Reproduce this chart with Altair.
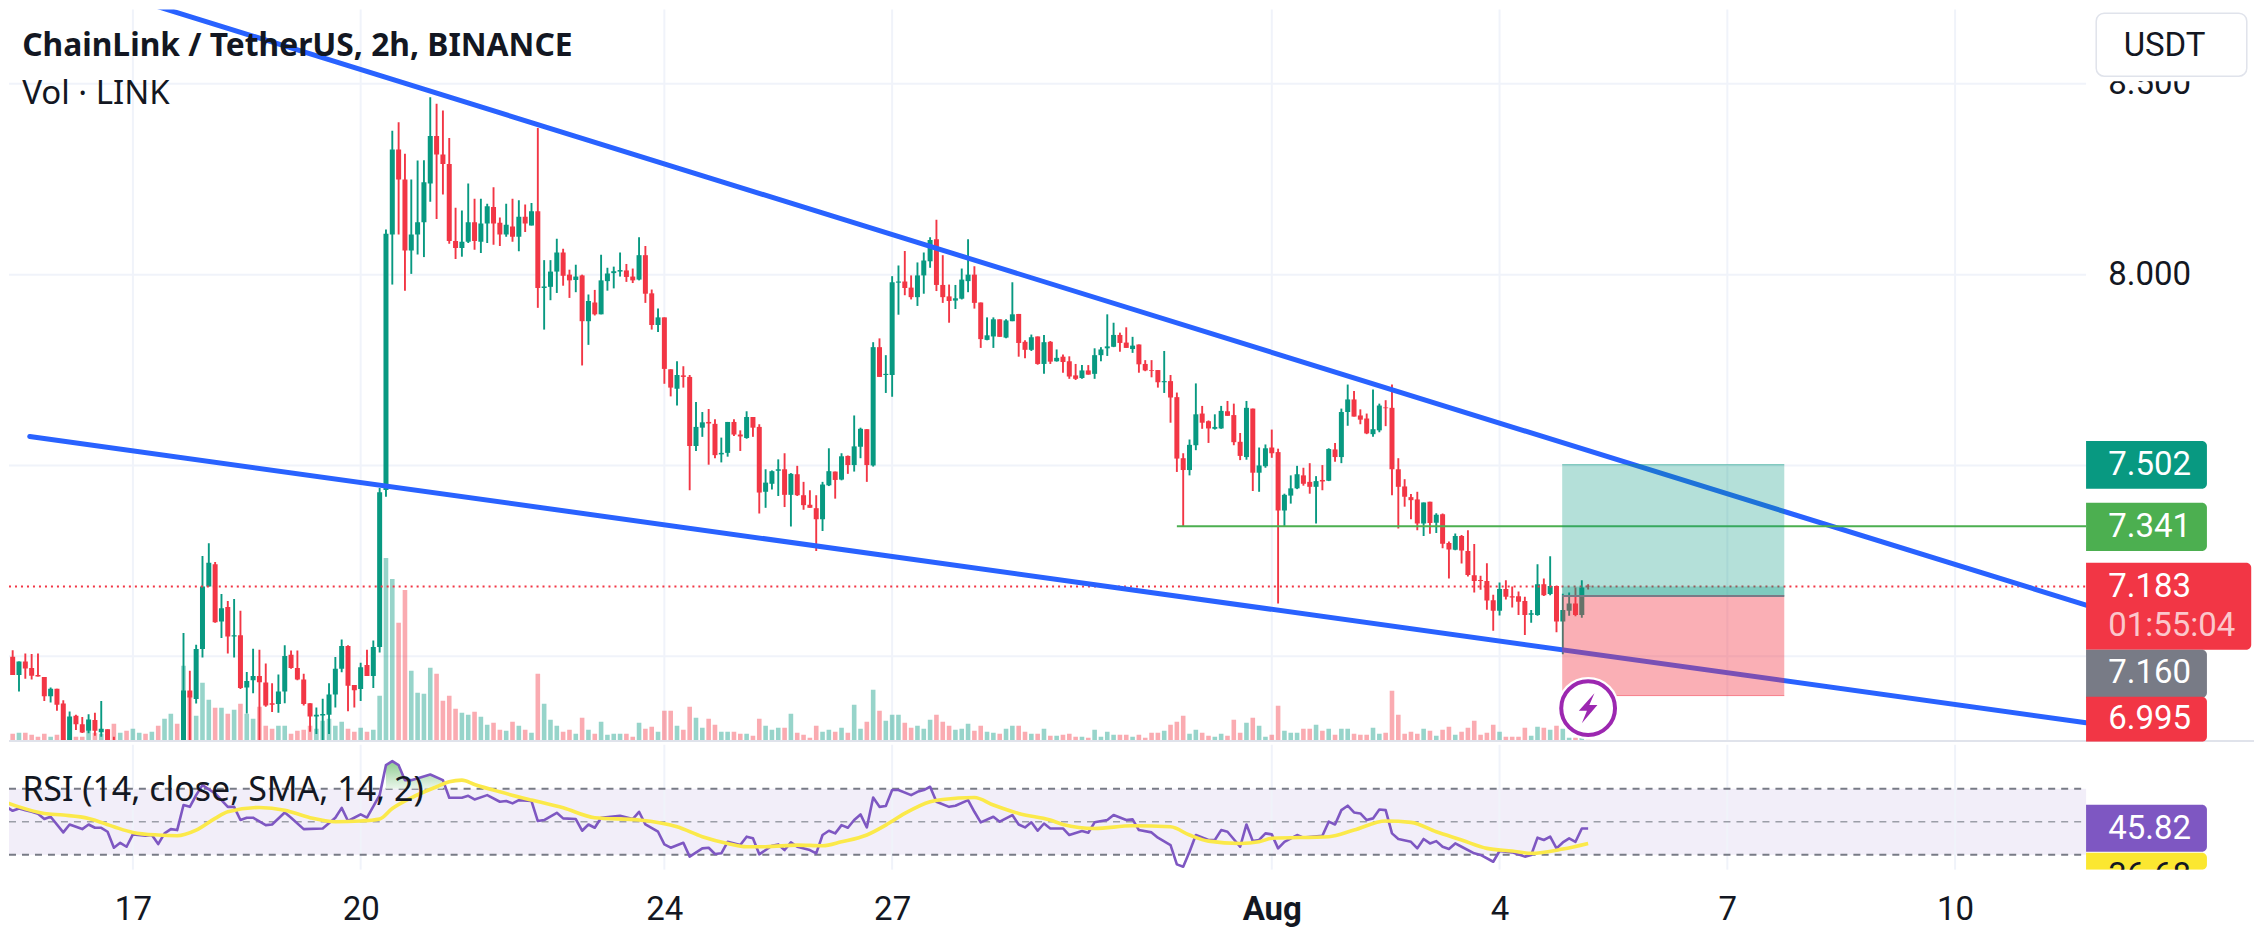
import altair as alt
import pandas as pd

# ---------- candles (open, high, low, close); 2h bars, bar 0 = 17 Jul 00:00 ----------
first_candles_start = -20
candles_before_17 = [
(6.978,7.007,6.934,6.999),(6.999,7.016,6.951,6.951),(6.951,6.986,6.908,6.986),(6.986,7.007,6.941,6.968),
(6.969,7.006,6.939,6.949),(6.951,7.007,6.947,6.947),(6.946,6.946,6.883,6.895),(6.895,6.918,6.879,6.915),
(6.915,6.915,6.857,6.873),(6.876,6.885,6.774,6.777),(6.777,6.855,6.774,6.842),(6.844,6.847,6.807,6.822),
(6.822,6.841,6.799,6.800),(6.805,6.848,6.798,6.834),(6.833,6.852,6.792,6.805),(6.801,6.883,6.789,6.810),
(6.809,6.809,6.760,6.760),(6.760,6.789,6.740,6.740)]
second_candles_start = 8
candles_a = [
(6.740,7.061,6.730,6.910),(6.910,6.962,6.740,6.892),(6.888,7.030,6.876,7.019),(7.019,7.263,6.997,7.183),
(7.183,7.296,7.183,7.245),(7.241,7.247,7.088,7.089),(7.091,7.163,7.048,7.126),(7.129,7.145,7.007,7.052),
(7.052,7.150,6.997,7.055),(7.055,7.119,6.914,6.917),(6.918,6.959,6.850,6.935),(6.937,7.020,6.903,6.948),
(6.948,7.017,6.740,6.932),(6.931,6.981,6.868,6.871),(6.877,6.929,6.854,6.873),(6.875,6.952,6.852,6.908),
(6.908,7.029,6.877,7.001),(7.004,7.015,6.967,6.969),(6.969,7.015,6.937,6.939),(6.939,6.954,6.871,6.875),
(6.877,6.877,6.802,6.842),(6.842,6.866,6.796,6.847),(6.845,6.889,6.775,6.849),(6.847,6.929,6.796,6.900),
(6.900,6.998,6.866,6.967),(6.967,7.044,6.958,7.027),(7.027,7.029,6.856,6.923),(6.925,6.925,6.866,6.911),
(6.914,6.983,6.883,6.971),(6.977,7.017,6.948,6.948),(6.948,7.041,6.917,7.024),(7.024,7.441,7.010,7.430),
(7.436,8.118,7.418,8.107)]
candles_b = [
(8.105,8.377,7.974,8.328),(8.328,8.399,8.105,8.249),(8.249,8.317,7.958,8.063),(8.063,8.249,8.002,8.105),
(8.105,8.299,8.053,8.137),(8.137,8.300,8.046,8.242),(8.239,8.465,8.191,8.363),(8.363,8.448,8.146,8.315),
(8.315,8.430,8.210,8.290),(8.290,8.358,8.081,8.088),(8.088,8.175,8.041,8.070),(8.070,8.168,8.047,8.086),
(8.086,8.239,8.083,8.137),(8.137,8.199,8.065,8.088),(8.086,8.199,8.057,8.134),(8.134,8.186,8.083,8.179),
(8.177,8.229,8.078,8.134),(8.136,8.150,8.075,8.105),(8.105,8.186,8.099,8.131),(8.126,8.199,8.086,8.099),
(8.099,8.195,8.061,8.152),(8.152,8.184,8.112,8.134),(8.129,8.188,8.129,8.166),(8.166,8.384,7.913,7.965),
(7.965,8.038,7.856,7.969),(7.968,8.038,7.933,8.008),(8.008,8.094,7.952,8.058),(8.058,8.068,7.971,7.997),
(8.000,8.013,7.939,7.985),(7.986,8.026,7.954,7.995),(7.998,8.000,7.762,7.878),(7.878,7.948,7.816,7.931),
(7.927,7.960,7.893,7.896),(7.896,8.052,7.896,7.985),(7.983,8.018,7.958,8.003),(8.004,8.021,7.964,8.009),
(8.008,8.058,7.995,8.012),(8.011,8.028,7.981,7.994),(7.995,8.016,7.978,7.985)]
candles_c = [
(7.987,8.098,7.985,8.051),(8.051,8.075,7.926,7.950),(7.951,7.961,7.856,7.868),(7.868,7.911,7.850,7.888),
(7.888,7.888,7.714,7.753),(7.752,7.752,7.681,7.704),(7.701,7.773,7.657,7.737),(7.736,7.760,7.704,7.732),
(7.732,7.737,7.435,7.551),(7.551,7.666,7.538,7.601),(7.599,7.640,7.575,7.613),(7.614,7.648,7.502,7.610),
(7.609,7.621,7.519,7.527),(7.529,7.573,7.508,7.533),(7.533,7.614,7.523,7.614),(7.614,7.621,7.577,7.581),
(7.581,7.592,7.538,7.576),(7.572,7.642,7.570,7.627),(7.627,7.627,7.575,7.599),(7.601,7.608,7.374,7.429),
(7.431,7.490,7.389,7.455),(7.452,7.487,7.437,7.485),(7.486,7.516,7.420,7.490),(7.490,7.532,7.391,7.423),
(7.423,7.480,7.340,7.478),(7.477,7.499,7.420,7.422),(7.422,7.457,7.384,7.396),(7.397,7.435,7.389,7.389),
(7.388,7.422,7.276,7.359),(7.359,7.457,7.328,7.450),(7.448,7.545,7.446,7.485),(7.484,7.484,7.413,7.462),
(7.463,7.532,7.461,7.524),(7.525,7.526,7.478,7.501),(7.501,7.631,7.484,7.550),(7.549,7.599,7.519,7.596),
(7.595,7.595,7.457,7.501),(7.500,7.823,7.497,7.810),(7.810,7.833,7.732,7.732),(7.737,7.789,7.690,7.740),
(7.737,7.996,7.680,7.980)]
candles_d = [
(7.979,8.024,7.895,7.982),(7.982,8.062,7.946,7.965),(7.966,7.998,7.935,7.941),(7.941,8.032,7.918,7.998),
(7.998,8.058,7.950,8.037),(8.035,8.098,8.018,8.091),(8.093,8.144,7.957,7.973),(7.973,8.051,7.926,7.941),
(7.943,7.974,7.874,7.931),(7.932,7.973,7.910,7.938),(7.937,8.016,7.935,7.987),(7.983,8.093,7.954,8.000),
(8.000,8.022,7.911,7.926),(7.927,7.927,7.808,7.831),(7.829,7.888,7.828,7.841),(7.838,7.888,7.808,7.883),
(7.883,7.883,7.837,7.837),(7.835,7.883,7.833,7.880),(7.878,7.980,7.878,7.896),(7.897,7.897,7.785,7.821),
(7.824,7.828,7.781,7.803),(7.803,7.843,7.800,7.836),(7.838,7.838,7.764,7.766),(7.766,7.842,7.740,7.823),
(7.824,7.826,7.766,7.772),(7.773,7.804,7.772,7.782),(7.785,7.791,7.743,7.771),(7.773,7.786,7.727,7.733),
(7.736,7.766,7.724,7.727),(7.729,7.763,7.727,7.749),(7.749,7.763,7.738,7.738),(7.740,7.807,7.727,7.789),
(7.789,7.810,7.773,7.804),(7.807,7.896,7.787,7.812),(7.811,7.874,7.810,7.842),(7.842,7.848,7.798,7.821),
(7.822,7.862,7.808,7.808),(7.805,7.837,7.795,7.814),(7.817,7.817,7.743,7.765),(7.766,7.776,7.747,7.749),
(7.750,7.776,7.731,7.748),(7.750,7.750,7.704,7.718),(7.718,7.800,7.690,7.721)]
candles_e = [
(7.721,7.737,7.612,7.678),(7.679,7.691,7.483,7.518),(7.519,7.532,7.340,7.488),(7.488,7.568,7.474,7.554),
(7.553,7.715,7.540,7.634),(7.636,7.656,7.596,7.612),(7.616,7.618,7.559,7.597),(7.596,7.634,7.594,7.601),
(7.597,7.656,7.596,7.643),(7.642,7.669,7.630,7.630),(7.632,7.662,7.553,7.561),(7.562,7.585,7.514,7.525),
(7.522,7.669,7.515,7.651),(7.649,7.649,7.433,7.481),(7.481,7.547,7.431,7.500),(7.498,7.555,7.494,7.545),
(7.547,7.594,7.520,7.532),(7.535,7.544,7.138,7.382),(7.382,7.426,7.340,7.423),(7.421,7.474,7.400,7.440),
(7.440,7.499,7.438,7.477),(7.474,7.494,7.447,7.452),(7.457,7.506,7.426,7.444),(7.444,7.472,7.348,7.459),
(7.462,7.501,7.435,7.458),(7.460,7.545,7.459,7.543),(7.542,7.559,7.510,7.522),(7.522,7.649,7.506,7.640),
(7.640,7.712,7.604,7.673),(7.673,7.695,7.628,7.628),(7.631,7.647,7.608,7.620),(7.623,7.636,7.582,7.584),
(7.582,7.699,7.575,7.595),(7.592,7.662,7.587,7.657),(7.652,7.671,7.603,7.650),(7.651,7.712,7.422,7.490),
(7.490,7.519,7.335,7.444)]
candles_f = [
(7.445,7.464,7.392,7.418),(7.417,7.425,7.359,7.409),(7.411,7.431,7.330,7.348),(7.348,7.403,7.315,7.403),
(7.405,7.405,7.321,7.349),(7.350,7.375,7.323,7.371),(7.372,7.374,7.283,7.295),(7.297,7.301,7.204,7.280),
(7.279,7.322,7.278,7.315),(7.315,7.318,7.243,7.277),(7.276,7.330,7.209,7.213),(7.212,7.294,7.167,7.197),
(7.200,7.211,7.174,7.197),(7.197,7.244,7.122,7.146),(7.147,7.161,7.067,7.119),(7.119,7.193,7.107,7.176),
(7.176,7.199,7.149,7.156),(7.157,7.183,7.128,7.154),(7.157,7.170,7.108,7.143),(7.145,7.156,7.056,7.108),
(7.109,7.121,7.088,7.113),(7.108,7.241,7.106,7.189),(7.189,7.204,7.158,7.160),(7.163,7.262,7.160,7.184),
(7.184,7.184,7.063,7.091),(7.091,7.164,7.005,7.121),(7.119,7.167,7.106,7.138),(7.138,7.180,7.105,7.108),
(7.108,7.199,7.101,7.180),(7.185,7.189,7.175,7.183)]

# ---------- volume (relative), one per bar from bar -20 ----------
vol_before_8 = [9,7,8,8,6,4,7,4,6,2,3,4,4,10,8,7,7,17,8,10,12,8,7,9,15,22,27,17]
vol_up_before_8 = [1,0,1,0,0,0,0,1,0,0,1,0,0,1,0,1,0,0,1,0,1,1,0,1,0,1,1,0]
vol_a = [75,45,25,58,41,33,33,27,31,37,27,22,34,15,12,15,15,7,10,11,15,12,20,22,15,19,12,9,13,9,11,45,183]
vol_b = [162,118,151,70,48,47,73,67,40,45,32,28,26,29,24,16,18,11,10,19,15,11,8,67,37,21,15,9,11,7,23,11,7,19,6,7,7,7,4]
vol_c = [18,12,14,9,30,30,15,11,34,23,13,22,16,9,9,9,7,7,5,22,15,11,13,13,27,8,6,3,15,9,11,9,13,8,36,12,19,51,30,20,26]
vol_d = [26,18,13,15,12,21,26,19,15,11,12,17,10,15,9,8,7,12,15,15,9,7,7,12,5,5,6,7,4,4,3,11,4,9,6,6,6,4,6,3,8,8,10]
vol_e = [16,19,25,7,11,8,5,4,7,5,21,8,18,23,15,4,6,35,10,8,8,12,12,16,10,12,6,12,12,7,6,6,13,7,8,50,26]
vol_f = [7,9,7,12,10,5,11,14,6,9,13,20,6,8,16,9,4,4,4,13,5,14,13,11,15,12,3,3,3,1]

# ---------- RSI (bar index, value) ----------
rsi_bars = [-21,-20,-19,-18,-17,-16,-15,-14,-13,-11,-10,-8,-7,-6,-5,-4,-3,-2,-1,0,2,3,4,5,6,7,8,9,10,11,13,14,15,16,17,18,19,21,22,24,25,27,30,32,33,34,36,37,39,40,41,42,43,44,47,49,50,52,53,54,56,58,59,60,61,63,64,65,67,68,70,71,72,73,74,77,79,80,81,83,84,85,87,88,90,91,92,93,94,96,97,98,99,101,102,103,104,105,
107,108,109,110,111,112,113,114,115,116,117,118,119,120,121,123,124,125,126,127,129,130,132,133,134,136,137,139,140,141,142,143,144,145,147,148,150,151,152,154,155,157,158,159,161,162,164,165,166,167,168,170,171,172,173,175,176,177,178,179,180,181,182,184,185,188,189,190,191,192,193,194,195,196,197,198,199,200,202,203,204,205,206,207,208,209,210,212,213,215,216,218,220,221,222,223,224,225,226,227,228,229,230]
rsi_vals = [59,59,56.6,58,57,56,54.8,51.6,53,43.5,48.3,45.5,48.3,46.3,46.3,43.9,34.2,37.2,34.8,42.3,41.5,41.9,36.4,42.9,45.5,44.9,60.1,59,66.1,72.2,67.1,63.1,59,59,51,52.4,52.4,47.9,48.3,55.6,52.4,45.5,45.9,52.4,58.4,50.4,54.4,52.4,66.1,84.3,86.7,84.3,75.2,75.2,78.6,75.2,64.5,64.5,65.7,63.5,66.1,62.1,62.5,61.1,63.1,62.5,50.4,51,55.4,52,51.6,44.5,48.3,46.3,52.4,53.6,51.6,56,48.3,43.9,36.2,34.2,37.2,28.8,33.8,34.2,30.4,30.8,37.8,35.8,40.9,39.9,30.2,35.4,36.2,32.8,37.4,34.8,
32.8,30.8,41.9,44.5,42.9,47.9,46.3,51,54.4,46.5,64.7,59,59.5,69.2,69.2,66.1,68.1,69.2,71.2,62.1,59,59.7,63.1,56,49.6,53,50,54,48.3,46.5,49.6,44.5,48.9,45.9,45.9,41.9,44.3,43.3,49.6,51,54,51,51.4,44.9,43.5,40.3,35.8,24.1,22.7,31.8,41.9,38.9,38.9,44.9,43.9,34.8,48.3,38.2,38.9,42.9,42.3,33.8,37.8,41.9,40.3,41.5,50,48.3,57,59.7,55.6,55,51,52,57.4,57,42.9,39.5,37.8,33.8,39.5,36.8,38.2,34.8,33.4,36.8,34.8,30.8,29.8,25.7,32.2,31.4,28.8,29.8,40.3,38.9,40.9,33.8,37.4,39.9,37.8,45.9,45.9]
sma_bars = [-21,-18,-14,-11,-7,-3,0,4,7,10,13,15,20,24,28,32,36,39,41,44,48,50,52,54,58,63,68,73,80,86,90,94,97,100,105,109,112,116,119,122,126,128,133,136,140,145,147,152,158,164,167,170,175,178,180,189,193,198,202,206,210,214,218,221,226,230]
sma_vals = [63.1,59,55,54,52,46.9,43.5,41.9,41.5,44.9,52,56,58.6,57,52.4,50,50.4,51.6,58,64.5,71.2,74.2,75.2,72.6,68.1,63.1,58.4,52.4,51,46.9,40.9,36.8,34.8,34.8,35.8,35.4,37.8,41.9,47.9,55,62.1,63.5,64.7,60.1,55,51,48.3,45.9,47.5,46.9,41.9,38.2,36.8,37.8,39.9,40.9,44.9,50.4,49.6,43.9,38.9,33.8,32.2,30.8,33.4,36.8]

# ---------- axis, levels, drawings ----------
tick_bars = [0,36,84,120,180,216,252,288]
tick_names = ["17","20","24","27","Aug","4","7","10"]
grid_prices = [8.5,8.0,7.5,7.0]
pane_end = 308.7
left_end = -19.58
right_end = 335.24
upper_trend = ([0.3,308.7],[8.721,7.134])
lower_trend = ([-16.3,308.7],[7.576,6.826])
zone_start, zone_end = 225.9, 261.0
target, entry, stop, last_price, resistance = 7.502, 7.158, 6.897, 7.183, 7.341

GREEN, RED, BLUE = "#089981", "#f23645", "#2962ff"
GRID = "#f0f3fa"

# ---------- tables ----------
rows = []
for start, lists in ((first_candles_start,[candles_before_17]),
                     (second_candles_start,[candles_a,candles_b,candles_c,candles_d,candles_e,candles_f])):
    i = start
    for lst in lists:
        for o,h,l,c in lst:
            rows.append(dict(i=i,o=o,h=h,l=l,c=c,top=max(o,c),bot=min(o,c),dir="up" if c>=o else "down"))
            i += 1
cdf = pd.DataFrame(rows)
dirs = {r["i"]:r["dir"] for r in rows}
vols = vol_before_8+vol_a+vol_b+vol_c+vol_d+vol_e+vol_f
vrows = []
for k,v in enumerate(vols):
    i = k-20
    d = ("up" if vol_up_before_8[k] else "down") if k<len(vol_up_before_8) else dirs.get(i,"up")
    vrows.append(dict(i=i,v=v,zero=0,dir=d))
vdf = pd.DataFrame(vrows)

W = 2247
xs = alt.Scale(domain=[left_end,right_end],nice=False,zero=False,padding=0)
ys = alt.Scale(domain=[6.776,8.695],nice=False,zero=False,padding=0)
X = lambda f="i": alt.X(f+":Q",scale=xs,axis=None)
Y = lambda f="p": alt.Y(f+":Q",scale=ys,axis=None)
dircol = alt.Color("dir:N",scale=alt.Scale(domain=["up","down"],range=[GREEN,RED]),legend=None)

def table(**k): return alt.Data(values=pd.DataFrame(k).to_dict("records"))

layers = []
# grid
layers.append(alt.Chart(table(i=tick_bars)).mark_rule(color=GRID,strokeWidth=2).encode(x=X()))
layers.append(alt.Chart(table(p=grid_prices,a=[left_end]*4,b=[pane_end]*4)).mark_rule(color=GRID,strokeWidth=2)
              .encode(x=X("a"),x2="b:Q",y=Y()))
# volume
layers.append(alt.Chart(vdf).mark_bar(size=4.6,opacity=0.42,clip=True).encode(
    x=X(),y=alt.Y("v:Q",scale=alt.Scale(domain=[-1,732],nice=False,zero=False,padding=0),axis=None),y2="zero:Q",color=dircol))
# candles
layers.append(alt.Chart(cdf).mark_rule(strokeWidth=1.9,clip=True).encode(x=X(),y=Y("h"),y2="l:Q",color=dircol))
layers.append(alt.Chart(cdf).mark_bar(size=5,clip=True).encode(x=X(),y=Y("top"),y2="bot:Q",color=dircol))
# lines
layers.append(alt.Chart(table(p=[last_price],a=[left_end],b=[pane_end])).mark_rule(color=RED,strokeWidth=2,strokeDash=[2,4])
              .encode(x=X("a"),x2="b:Q",y=Y()))
for name,(tx,ty) in (("u",upper_trend),("l",lower_trend)):
    layers.append(alt.Chart(table(i=tx,p=ty)).mark_line(color=BLUE,strokeWidth=5,strokeCap="round",clip=True)
                  .encode(x=X(),y=Y()))
layers.append(alt.Chart(table(p=[resistance],a=[165.0],b=[pane_end])).mark_rule(color="#4caf50",strokeWidth=2)
              .encode(x=X("a"),x2="b:Q",y=Y()))
# position tool
layers.append(alt.Chart(table(a=[zone_start],b=[zone_end],t=[target],u=[entry])).mark_rect(color=GREEN,opacity=0.3)
              .encode(x=X("a"),x2="b:Q",y=Y("t"),y2="u:Q"))
layers.append(alt.Chart(table(a=[zone_start],b=[zone_end],t=[last_price],u=[entry])).mark_rect(color=GREEN,opacity=0.3)
              .encode(x=X("a"),x2="b:Q",y=Y("t"),y2="u:Q"))
layers.append(alt.Chart(table(a=[zone_start],b=[zone_end],t=[entry],u=[stop])).mark_rect(color=RED,opacity=0.4)
              .encode(x=X("a"),x2="b:Q",y=Y("t"),y2="u:Q"))
layers.append(alt.Chart(table(a=[zone_start],b=[zone_end],p=[entry])).mark_rule(color="#787b86",strokeWidth=2)
              .encode(x=X("a"),x2="b:Q",y=Y()))
layers.append(alt.Chart(table(a=[zone_start]*2,b=[zone_end]*2,p=[target,stop],c=["t","s"]))
              .mark_rule(strokeWidth=1,opacity=0.55)
              .encode(x=X("a"),x2="b:Q",y=Y(),color=alt.Color("c:N",scale=alt.Scale(domain=["t","s"],range=[GREEN,RED]),legend=None)))
# flash icon
bolt = "M0.42,-1 L-0.62,0.18 L-0.08,0.18 L-0.42,1 L0.62,-0.22 L0.08,-0.22 Z"
ic = table(i=[230.0],p=[6.864])
layers.append(alt.Chart(ic).mark_point(shape="circle",size=3900,filled=True,color="white",opacity=1).encode(x=X(),y=Y()))
layers.append(alt.Chart(ic).mark_point(shape="circle",size=2900,fill="white",stroke="#9c27b0",strokeWidth=4,opacity=1).encode(x=X(),y=Y()))
layers.append(alt.Chart(ic).mark_point(shape=bolt,size=900,filled=True,color="#9c27b0",opacity=1).encode(x=X(),y=Y()))
# pane separator
layers.append(alt.Chart(table(p=[6.778],a=[left_end],b=[right_end])).mark_rule(color="#e0e3eb",strokeWidth=2)
              .encode(x=X("a"),x2="b:Q",y=Y()))
# price scale labels
scale_text = table(i=[312.2,312.2],p=[8.5,8.0],t=["8.500","8.000"])
layers.append(alt.Chart(scale_text).mark_text(align="left",baseline="middle",font="Roboto",fontSize=33,color="#131722")
              .encode(x=X(),y=Y(),text="t:N"))
box_l = ["target","resist","last","entry","stop"]
layers.append(alt.Chart(table(a=[308.7]*5,b=[327.8,327.8,334.8,327.8,327.8],
                              t=[7.564,7.402,7.245,7.017,6.894],u=[7.439,7.276,7.017,6.891,6.776],c=box_l))
              .mark_rect(cornerRadiusTopRight=5,cornerRadiusBottomRight=5,clip=True)
              .encode(x=X("a"),x2="b:Q",y=Y("t"),y2="u:Q",
                      color=alt.Color("c:N",scale=alt.Scale(domain=box_l,range=[GREEN,"#4caf50",RED,"#787b86",RED]),legend=None)))
layers.append(alt.Chart(table(i=[312.2]*5,p=[7.501,7.339,7.182,6.957,6.836],t=["7.502","7.341","7.183","7.160","6.995"]))
              .mark_text(align="left",baseline="middle",font="Roboto",fontSize=33,color="white")
              .encode(x=X(),y=Y(),text="t:N"))
layers.append(alt.Chart(table(i=[312.2],p=[7.080],t=["01:55:04"]))
              .mark_text(align="left",baseline="middle",font="Roboto",fontSize=33,color="#fbc7cb")
              .encode(x=X(),y=Y(),text="t:N"))
# currency button
layers.append(alt.Chart(table(a=[308.7],b=[right_end],t=[8.695],u=[8.507])).mark_rect(color="white",clip=True)
              .encode(x=X("a"),x2="b:Q",y=Y("t"),y2="u:Q"))
layers.append(alt.Chart(table(a=[310.3],b=[334.1],t=[8.685],u=[8.52])).mark_rect(fill="white",stroke="#e0e3eb",strokeWidth=1.5,cornerRadius=8)
              .encode(x=X("a"),x2="b:Q",y=Y("t"),y2="u:Q"))
layers.append(alt.Chart(table(i=[321.1],p=[8.598],t=["USDT"])).mark_text(align="center",baseline="middle",font="Roboto",fontSize=33,color="#131722")
              .encode(x=X(),y=Y(),text="t:N"))
# legend titles
layers.append(alt.Chart(table(i=[-17.5],p=[8.598],t=["ChainLink / TetherUS, 2h, BINANCE"]))
              .mark_text(align="left",baseline="middle",font="Noto Sans",fontSize=31.8,fontWeight="bold",color="#131722")
              .encode(x=X(),y=Y(),text="t:N"))
layers.append(alt.Chart(table(i=[-17.5],p=[8.473],t=["Vol · LINK"]))
              .mark_text(align="left",baseline="middle",font="Noto Sans",fontSize=33,color="#131722")
              .encode(x=X(),y=Y(),text="t:N"))

main = alt.layer(*layers).resolve_scale(y="independent",color="independent").properties(width=W,height=733)

# ---------- RSI pane ----------
rs = alt.Scale(domain=[20.9,96.67],nice=False,zero=False,padding=0)
YR = lambda f="r": alt.Y(f+":Q",scale=rs,axis=None)
axis = alt.Axis(values=tick_bars,
                labelExpr="{"+",".join(f"'{b}':'{n}'" for b,n in zip(tick_bars,tick_names))+"}[''+datum.value]",
                domain=False,ticks=False,grid=False,title=None,labelFont="Roboto",labelFontSize=33,labelColor="#131722",
                labelPadding=24,labelOverlap=False,labelFlush=False,labelAngle=0,
                labelFontWeight={"expr":"datum.value==180?'bold':'normal'"})
XA = lambda f="i": alt.X(f+":Q",scale=xs,axis=axis)
rl = []
rl.append(alt.Chart(table(a=[left_end],b=[pane_end],t=[70],u=[30])).mark_rect(color="#7e57c2",opacity=0.1)
          .encode(x=XA("a"),x2="b:Q",y=YR("t"),y2="u:Q"))
rl.append(alt.Chart(table(i=tick_bars)).mark_rule(color=GRID,strokeWidth=2)
          .encode(x=XA()))
for lvl,col,sw in ((70,"#787b86",2),(50,"#9b9ea8",1.5),(30,"#787b86",2)):
    rl.append(alt.Chart(table(r=[lvl],a=[left_end],b=[pane_end])).mark_rule(color=col,strokeWidth=sw,strokeDash=[7,6])
              .encode(x=XA("a"),x2="b:Q",y=YR()))
rsi = pd.DataFrame(dict(i=rsi_bars[:len(rsi_vals)],r=rsi_vals[:len(rsi_bars)]))
ob = rsi[(rsi.r>70)&(rsi.i>=39)&(rsi.i<=49)].copy()
ob["base"]=70
rl.append(alt.Chart(ob).mark_area(opacity=0.9,color=alt.Gradient(gradient="linear",x1=0,x2=0,y1=0,y2=1,
          stops=[alt.GradientStop(color="#81c784",offset=0),alt.GradientStop(color="#e8f5e9",offset=1)]))
          .encode(x=XA(),y=YR(),y2="base:Q"))
rl.append(alt.Chart(rsi).mark_line(color="#7e57c2",strokeWidth=2.6,strokeJoin="round",clip=True).encode(x=XA(),y=YR()))
sma = pd.DataFrame(dict(i=sma_bars[:len(sma_vals)],r=sma_vals[:len(sma_bars)]))
rl.append(alt.Chart(sma).mark_line(color="#fbe94a",strokeWidth=3.6,interpolate="monotone",clip=True).encode(x=XA(),y=YR()))
rl.append(alt.Chart(table(a=[308.7,308.7],b=[327.8,327.8],t=[60.3,31.2],u=[31.8,20.9],c=["v","s"]))
          .mark_rect(cornerRadiusTopRight=5,cornerRadiusBottomRight=5,clip=True)
          .encode(x=XA("a"),x2="b:Q",y=YR("t"),y2="u:Q",
                  color=alt.Color("c:N",scale=alt.Scale(domain=["v","s"],range=["#7e57c2","#fbe730"]),legend=None)))
rl.append(alt.Chart(table(i=[312.2],r=[45.5],t=["45.82"])).mark_text(align="left",baseline="middle",font="Roboto",fontSize=33,color="white",clip=True)
          .encode(x=XA(),y=YR(),text="t:N"))
rl.append(alt.Chart(table(i=[312.2],r=[17],t=["36.68"])).mark_text(align="left",baseline="middle",font="Roboto",fontSize=33,color="#131722",clip=True)
          .encode(x=XA(),y=YR(),text="t:N"))
rl.append(alt.Chart(table(i=[-17.5],r=[68.8],t=["RSI (14, close, SMA, 14, 2)"]))
          .mark_text(align="left",baseline="middle",font="Noto Sans",fontSize=34,color="#131722")
          .encode(x=XA(),y=YR(),text="t:N"))
low = alt.layer(*rl).resolve_scale(color="independent").properties(width=W,height=125)

chart = alt.vconcat(main,low,spacing=0,padding=0,background="white").configure_view(stroke=None).configure_concat(spacing=0)
chart.save("out.html", embed_options={"renderer": "svg", "actions": False})
